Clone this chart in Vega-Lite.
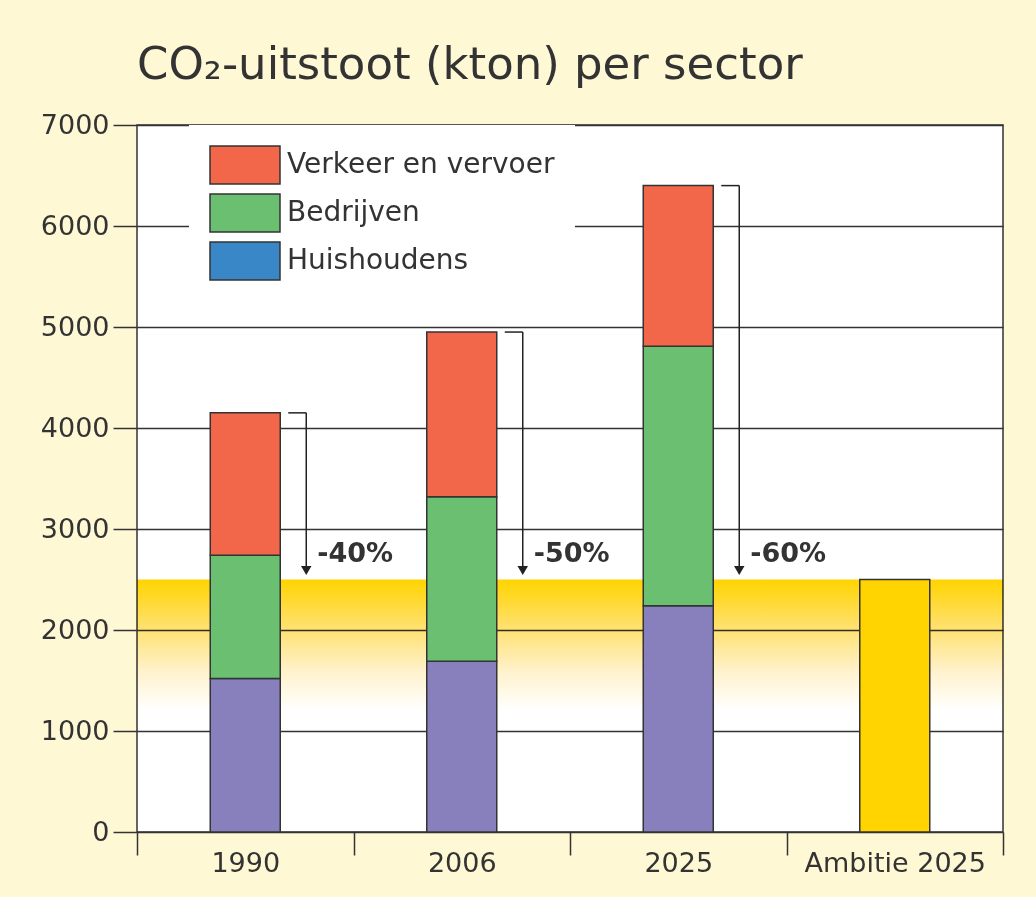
{
  "$schema": "https://vega.github.io/schema/vega-lite/v6.json",
  "width": 866,
  "height": 707,
  "autosize": {"type": "none"},
  "padding": {"left": 137, "top": 125, "right": 33, "bottom": 65},
  "background": "#FEF8D5",
  "title": {
    "text": "CO₂-uitstoot (kton) per sector",
    "anchor": "start",
    "frame": "group",
    "font": "DejaVu Sans",
    "fontSize": 45,
    "fontWeight": "normal",
    "color": "#333333",
    "offset": 23
  },
  "datasets": {
    "sectoren": [
      {"jaar": "1990", "sector": "Huishoudens", "volgorde": 1, "waarde": 1520},
      {"jaar": "1990", "sector": "Bedrijven", "volgorde": 2, "waarde": 1220},
      {"jaar": "1990", "sector": "Verkeer en vervoer", "volgorde": 3, "waarde": 1410},
      {"jaar": "2006", "sector": "Huishoudens", "volgorde": 1, "waarde": 1690},
      {"jaar": "2006", "sector": "Bedrijven", "volgorde": 2, "waarde": 1630},
      {"jaar": "2006", "sector": "Verkeer en vervoer", "volgorde": 3, "waarde": 1630},
      {"jaar": "2025", "sector": "Huishoudens", "volgorde": 1, "waarde": 2240},
      {"jaar": "2025", "sector": "Bedrijven", "volgorde": 2, "waarde": 2570},
      {"jaar": "2025", "sector": "Verkeer en vervoer", "volgorde": 3, "waarde": 1590}
    ],
    "ambitie": [{"jaar": "Ambitie 2025", "waarde": 2500}],
    "reductie": [
      {"jaar": "1990", "totaal": 4150, "doel": 2500, "label": "-40%"},
      {"jaar": "2006", "totaal": 4950, "doel": 2500, "label": "-50%"},
      {"jaar": "2025", "totaal": 6400, "doel": 2500, "label": "-60%"}
    ],
    "band": [{"boven": 2500, "onder": 1200}]
  },
  "layer": [
    {
      "data": {"name": "band"},
      "mark": {
        "type": "rect",
        "blend": "multiply",
        "fill": {
          "gradient": "linear",
          "x1": 0, "y1": 0, "x2": 0, "y2": 1,
          "stops": [
            {"offset": 0, "color": "#FFD400"},
            {"offset": 0.35, "color": "#FFE06A"},
            {"offset": 0.7, "color": "#FFF2CC"},
            {"offset": 1, "color": "#FFFFFF"}
          ]
        }
      },
      "encoding": {
        "y": {"field": "boven", "type": "quantitative"},
        "y2": {"field": "onder"}
      }
    },
    {
      "data": {"name": "sectoren"},
      "mark": {"type": "bar", "size": 70, "stroke": "#333333", "strokeWidth": 1.5},
      "encoding": {
        "x": {
          "field": "jaar",
          "type": "nominal",
          "scale": {"domain": ["1990", "2006", "2025", "Ambitie 2025"], "paddingInner": 0, "paddingOuter": 0},
          "axis": {
            "title": null,
            "labelAngle": 0,
            "labelLimit": 300,
            "tickBand": "extent",
            "tickSize": 23,
            "labelPadding": -5,
            "grid": false,
            "domain": false
          }
        },
        "y": {
          "field": "waarde",
          "type": "quantitative",
          "stack": "zero",
          "scale": {"domain": [0, 7000], "nice": false},
          "axis": {
            "title": null,
            "format": "d",
            "values": [0, 1000, 2000, 3000, 4000, 5000, 6000, 7000],
            "tickSize": 24,
            "labelPadding": 4,
            "grid": true,
            "domain": false
          }
        },
        "color": {
          "field": "sector",
          "type": "nominal",
          "condition": {"test": "datum.sector === 'Huishoudens'", "value": "#8780BC"},
          "scale": {
            "domain": ["Verkeer en vervoer", "Bedrijven", "Huishoudens"],
            "range": ["#F2664A", "#6BBF70", "#3A87C8"]
          },
          "legend": {
            "title": null,
            "orient": "none",
            "legendX": 52,
            "legendY": 0,
            "padding": 20,
            "fillColor": "#FFFFFF",
            "symbolType": "M-1.842,-1H1.842V1H-1.842Z",
            "symbolSize": 1444,
            "symbolOffset": 16,
            "symbolOpacity": 1,
            "rowPadding": 4,
            "labelOffset": 22,
            "labelFontSize": 28,
            "labelFont": "DejaVu Sans",
            "labelColor": "#333333",
            "labelLimit": 400,
            "encode": {
              "symbols": {
                "stroke": {"value": "#333333"},
                "strokeWidth": {"value": 1.5}
              }
            }
          }
        },
        "order": {"field": "volgorde", "type": "quantitative"}
      }
    },
    {
      "data": {"name": "ambitie"},
      "mark": {"type": "bar", "size": 70, "stroke": "#333333", "strokeWidth": 1.5, "fill": "#FFD400"},
      "encoding": {
        "x": {"field": "jaar", "type": "nominal"},
        "y": {"field": "waarde", "type": "quantitative"}
      }
    },
    {
      "data": {"name": "reductie"},
      "mark": {"type": "rule", "color": "#222222", "strokeWidth": 1.5, "xOffset": 43, "x2Offset": 61},
      "encoding": {
        "x": {"field": "jaar", "type": "nominal"},
        "x2": {"field": "jaar"},
        "y": {"field": "totaal", "type": "quantitative"}
      }
    },
    {
      "data": {"name": "reductie"},
      "mark": {"type": "rule", "color": "#222222", "strokeWidth": 1.5, "xOffset": 61, "y2Offset": -10},
      "encoding": {
        "x": {"field": "jaar", "type": "nominal"},
        "y": {"field": "totaal", "type": "quantitative"},
        "y2": {"field": "doel"}
      }
    },
    {
      "data": {"name": "reductie"},
      "mark": {"type": "point", "shape": "triangle-down", "filled": true, "color": "#222222", "opacity": 1, "size": 110, "xOffset": 61, "yOffset": -9},
      "encoding": {
        "x": {"field": "jaar", "type": "nominal"},
        "y": {"field": "doel", "type": "quantitative"}
      }
    },
    {
      "data": {"name": "reductie"},
      "mark": {"type": "text", "align": "left", "baseline": "middle", "font": "DejaVu Sans", "fontSize": 27, "fontWeight": "bold", "color": "#333333", "xOffset": 72, "yOffset": -26},
      "encoding": {
        "x": {"field": "jaar", "type": "nominal"},
        "y": {"field": "doel", "type": "quantitative"},
        "text": {"field": "label"}
      }
    }
  ],
  "config": {
    "view": {"fill": "#FFFFFF", "stroke": "#333333", "strokeWidth": 1.5},
    "axis": {
      "labelFont": "DejaVu Sans",
      "labelFontSize": 27,
      "labelColor": "#333333",
      "tickColor": "#333333",
      "tickWidth": 1.5,
      "gridColor": "#333333",
      "gridWidth": 1.5,
      "gridOpacity": 1
    }
  }
}
